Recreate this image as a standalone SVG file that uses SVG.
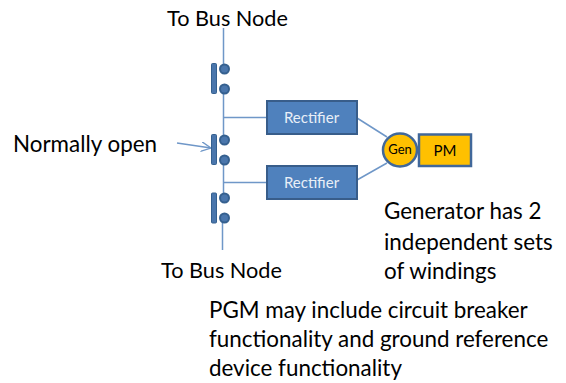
<svg xmlns="http://www.w3.org/2000/svg" width="566" height="383" viewBox="0 0 566 383">
<style>
text{font-family:"Lato","Open Sans","Liberation Sans",sans-serif;fill:#000}
.t{font-size:22.400px}
.b{font-size:21.700px}
.l{stroke:#6f97c8;stroke-width:1.5;fill:none}
.bar{fill:#4a76ac;stroke:#35608f;stroke-width:1}
.dot{fill:#4a76ac;stroke:#35608f;stroke-width:2}
.rect{fill:#4f81bd;stroke:#385d8a;stroke-width:2}
.rt{font-size:15px;fill:#e9eff7;text-anchor:middle}
.gold{fill:#ffc000;stroke:#41689a;stroke-width:2.5}
</style>
<defs><marker id="a" markerWidth="12" markerHeight="12" refX="10" refY="5" orient="auto" markerUnits="userSpaceOnUse"><path d="M0 0L10 5L0 10" fill="none" stroke="#6f97c8" stroke-width="1.3"/></marker></defs>
<g id="connectors">
<path class="l" d="M223.500 28V69M223.500 89V140M223.500 160V198M222.500 218V250"/>
<path class="l" d="M223.500 117.500H267M223.500 182.500H267"/>
<path class="l" d="M357 118L387 137M357 180L387 163"/>
<path class="l" d="M177 143L211 148" marker-end="url(#a)"/>
</g>
<g id="switch-1"><rect class="bar" x="211.500" y="63.500" width="5" height="30" rx="1"/><circle class="dot" cx="224.500" cy="69" r="4.500"/><circle class="dot" cx="224.500" cy="89" r="4.500"/></g>
<g id="switch-2"><rect class="bar" x="211.500" y="134.500" width="5" height="30" rx="1"/><circle class="dot" cx="224.500" cy="140" r="4.500"/><circle class="dot" cx="224.500" cy="160" r="4.500"/></g>
<g id="switch-3"><rect class="bar" x="211.500" y="193" width="5" height="30" rx="1"/><circle class="dot" cx="224.500" cy="198" r="4.500"/><circle class="dot" cx="224.500" cy="218" r="4.500"/></g>
<g id="rectifier-1"><rect class="rect" x="267" y="101" width="90" height="33"/><text class="rt" x="311.500" y="123">Rectifier</text></g>
<g id="rectifier-2"><rect class="rect" x="267" y="166" width="90" height="33"/><text class="rt" x="311.500" y="187.500">Rectifier</text></g>
<g id="gen"><ellipse class="gold" cx="400" cy="150" rx="17" ry="16.500"/><text x="400" y="154" font-size="13" text-anchor="middle">Gen</text></g>
<g id="pm"><rect class="gold" x="419" y="134.500" width="52" height="31.500"/><text x="445" y="155.500" font-size="15" text-anchor="middle">PM</text></g>
<g id="labels">
<text class="b" x="167" y="26">To Bus Node</text>
<text class="b" x="161" y="278">To Bus Node</text>
<text class="t" x="13" y="152">Normally open</text>
<text class="t" x="384" y="219">Generator has 2</text>
<text class="t" x="384" y="250">independent sets</text>
<text class="t" x="384" y="279">of windings</text>
<text class="t" x="209" y="318">PGM may include circuit breaker</text>
<text class="t" x="209" y="347">functionality and ground reference</text>
<text class="t" x="209" y="376">device functionality</text>
</g>
</svg>
